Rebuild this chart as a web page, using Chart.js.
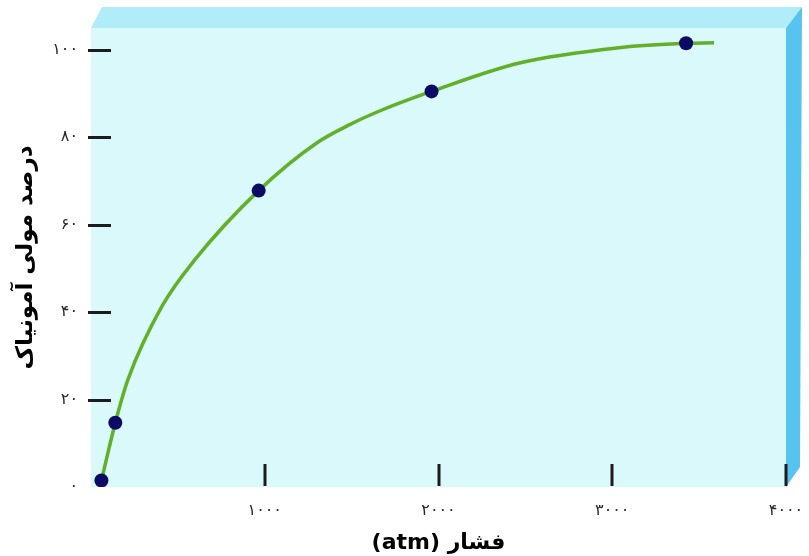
<!DOCTYPE html>
<html>
<head>
<meta charset="utf-8">
<script src="https://cdn.jsdelivr.net/npm/chart.js@4.4.1/dist/chart.umd.min.js"></script>
<style>
  html,body{margin:0;padding:0;background:#fff;}
  #c{display:block;}
</style>
</head>
<body>
<canvas id="c" width="809" height="556" dir="rtl"></canvas>
<script>
// measured points (pressure atm, mol % ammonia)
const pointX = [60, 140, 965, 1960, 3425];
const pointY = [1.5, 14.7, 67.8, 90.5, 101.5];

// the fitted curve
const curveX = [60, 140, 213, 408, 598, 965, 1299, 1489, 1678, 1960, 2466, 3040, 3425, 3586];
const curveY = [1.5, 14.7, 24.6, 41.3, 52.0, 67.8, 78.7, 82.9, 86.3, 90.5, 97.0, 100.5, 101.5, 101.6];

const xTickValues = [0, 1000, 2000, 3000, 4000];
const xTickLabels = ['', '۱۰۰۰', '۲۰۰۰', '۳۰۰۰', '۴۰۰۰'];
const yTickValues = [0, 20, 40, 60, 80, 100];
const yTickLabels = ['۰', '۲۰', '۴۰', '۶۰', '۸۰', '۱۰۰'];

const xTitle = 'فشار (atm)';
const yTitle = 'درصد مولی آمونیاک';

const faPlugin = {
  id: 'box3d',
  beforeDraw(chart){
    const {ctx, chartArea:a} = chart;
    ctx.save();
    ctx.fillStyle = '#fff';
    ctx.fillRect(0,0,chart.width,chart.height);
    // front face
    ctx.fillStyle = '#d9f9fb';
    ctx.fillRect(a.left, a.top, a.right-a.left, a.bottom-a.top);
    // top face
    ctx.fillStyle = '#b0edf9';
    ctx.beginPath();
    ctx.moveTo(a.left, a.top);
    ctx.lineTo(a.left+11, a.top-21);
    ctx.lineTo(a.right+16, a.top-21);
    ctx.lineTo(a.right, a.top);
    ctx.closePath(); ctx.fill();
    // right face
    ctx.fillStyle = '#56c4ef';
    ctx.beginPath();
    ctx.moveTo(a.right, a.top);
    ctx.lineTo(a.right+16, a.top-21);
    ctx.lineTo(a.right+14, a.bottom-20);
    ctx.lineTo(a.right, a.bottom);
    ctx.closePath(); ctx.fill();
    ctx.restore();
  },
  afterDatasetsDraw(chart){
    // tick marks sit inside the front face
    const {ctx, chartArea:a, scales} = chart;
    ctx.save();
    ctx.strokeStyle = '#1c1c1c';
    ctx.lineWidth = 3;
    yTickValues.forEach(v=>{
      if(v===0) return;
      const y = Math.round(scales.y.getPixelForValue(v))+0.5;
      ctx.beginPath(); ctx.moveTo(a.left-3, y); ctx.lineTo(a.left+20, y); ctx.stroke();
    });
    xTickValues.forEach(v=>{
      if(v===0) return;
      const x = Math.round(scales.x.getPixelForValue(v));
      ctx.beginPath(); ctx.moveTo(x, a.bottom-23); ctx.lineTo(x, a.bottom-1); ctx.stroke();
    });
    ctx.restore();
  }
};

new Chart(document.getElementById('c'), {
  type: 'scatter',
  data: {
    datasets: [
      {
        data: curveX.map((x,i)=>({x, y:curveY[i]})),
        showLine: true,
        borderColor: '#62b027',
        borderWidth: 3.5,
        pointRadius: 0,
        cubicInterpolationMode: 'monotone',
        order: 2
      },
      {
        data: pointX.map((x,i)=>({x, y:pointY[i]})),
        pointRadius: 7,
        pointBackgroundColor: '#0b0b66',
        pointBorderColor: '#0b0b66',
        pointBorderWidth: 0,
        order: 1
      }
    ]
  },
  options: {
    responsive: false,
    animation: false,
    layout: { padding: { top: 28, right: 23, left: 0, bottom: 0 } },
    plugins: { legend: { display: false }, tooltip: { enabled: false } },
    scales: {
      x: {
        type: 'linear', min: 0, max: 4000,
        afterBuildTicks(s){ s.ticks = xTickValues.map(v=>({value:v})); },
        afterFit(s){ s.height = 69; s.paddingRight = 0; s.paddingLeft = 0; },
        grid: { display: false, drawTicks: false },
        border: { display: false },
        ticks: {
          padding: 14, maxRotation: 0, autoSkip: false,
          color: '#2a2a2a',
          font: { family: 'DejaVu Sans', size: 16 },
          callback(v){ const i = xTickValues.indexOf(v); return i<0 ? '' : xTickLabels[i]; }
        },
        title: {
          display: true, text: xTitle, color: '#000',
          font: { family: 'DejaVu Sans', size: 22, weight: 'bold' },
          padding: { top: 7, bottom: 0 }
        }
      },
      y: {
        type: 'linear', min: 0, max: 105,
        afterBuildTicks(s){ s.ticks = yTickValues.map(v=>({value:v})); },
        afterFit(s){ s.width = 91; s.paddingTop = 0; s.paddingBottom = 0; },
        grid: { display: false, drawTicks: false },
        border: { display: false },
        ticks: {
          padding: 13, autoSkip: false,
          color: '#2a2a2a',
          font: { family: 'DejaVu Sans', size: 16 },
          callback(v){ const i = yTickValues.indexOf(v); return i<0 ? '' : yTickLabels[i]; }
        },
        title: {
          display: true, text: yTitle, color: '#000',
          font: { family: 'DejaVu Sans', size: 23, weight: 'bold' },
          padding: { top: 12, bottom: 0 }
        }
      }
    }
  },
  plugins: [faPlugin]
});
</script>
</body>
</html>
